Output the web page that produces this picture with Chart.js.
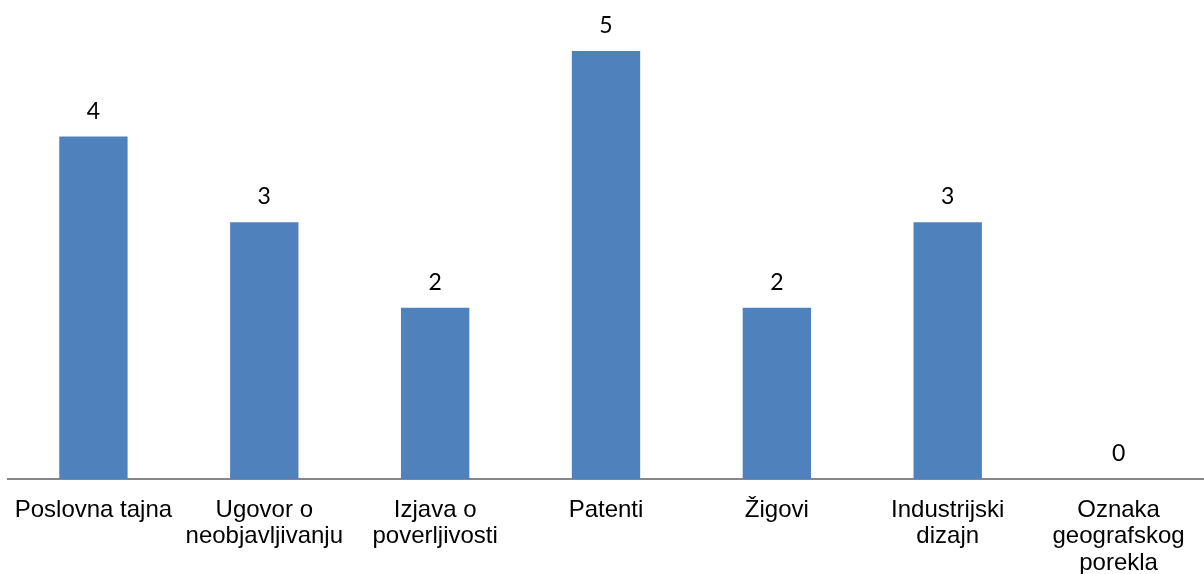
<!DOCTYPE html>
<html>
<head>
<meta charset="utf-8">
<script src="https://cdn.jsdelivr.net/npm/chart.js@4/dist/chart.umd.min.js"></script>
<style>
  html, body { margin: 0; padding: 0; background: #ffffff; }
  #wrap { width: 1204px; height: 574px; position: relative; }
</style>
</head>
<body>
<div id="wrap"><canvas id="c"></canvas></div>
<script>
const categories = [
  ["Poslovna tajna"],
  ["Ugovor o", "neobjavljivanju"],
  ["Izjava o", "poverljivosti"],
  ["Patenti"],
  ["Žigovi"],
  ["Industrijski", "dizajn"],
  ["Oznaka", "geografskog", "porekla"]
];
const counts = [4, 3, 2, 5, 2, 3, 0];

// Writes each bar's value above it
const valueLabels = {
  id: 'valueLabels',
  afterDatasetsDraw(chart) {
    const ctx = chart.ctx;
    const meta = chart.getDatasetMeta(0);
    ctx.save();
    ctx.font = '23px Lato, "Open Sans", sans-serif';
    ctx.fillStyle = '#000000';
    ctx.textAlign = 'center';
    ctx.textBaseline = 'alphabetic';
    meta.data.forEach((bar, i) => {
      ctx.fillText(String(counts[i]), bar.x, bar.y - 18);
    });
    ctx.restore();
  }
};

new Chart(document.getElementById('c'), {
  type: 'bar',
  data: {
    labels: categories,
    datasets: [{
      data: counts,
      backgroundColor: '#4F81BD',
      borderWidth: 0,
      categoryPercentage: 1,
      barPercentage: 0.4
    }]
  },
  options: {
    responsive: true,
    maintainAspectRatio: false,
    animation: false,
    layout: { padding: { top: 51, left: 8, right: 0, bottom: 0 } },
    plugins: { legend: { display: false }, tooltip: { enabled: false } },
    scales: {
      x: {
        // invisible tick marks only push the labels down from the axis line
        grid: {
          display: true,
          drawOnChartArea: false,
          drawTicks: true,
          tickLength: 18,
          color: 'rgba(0,0,0,0)'
        },
        border: { display: true, color: '#878787', width: 2 },
        ticks: {
          color: '#000000',
          font: { family: '"Liberation Sans", Arial, sans-serif', size: 24, lineHeight: 1.1 },
          padding: 0,
          maxRotation: 0,
          autoSkip: false
        },
        afterFit(axis) { axis.height = 95; }
      },
      y: {
        display: false,
        min: 0,
        max: 5
      }
    }
  },
  plugins: [valueLabels]
});
</script>
</body>
</html>
